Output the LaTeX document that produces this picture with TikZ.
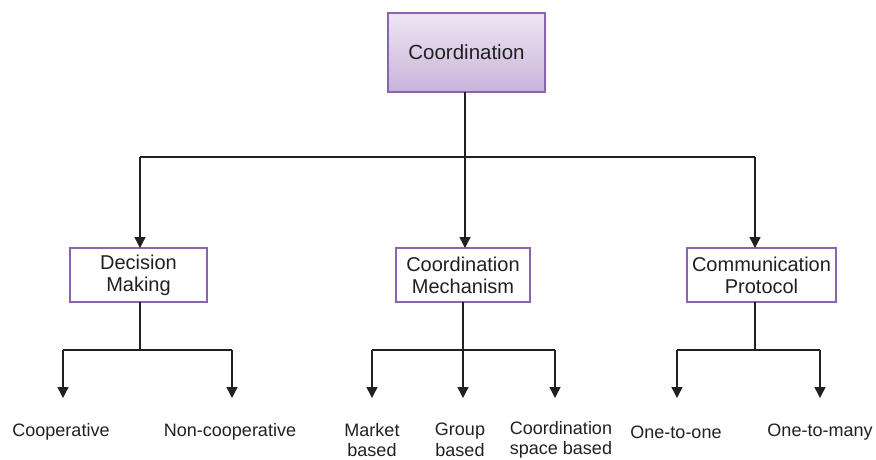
\documentclass[tikz,border=0pt]{standalone}
\usepackage{fontspec}
\setmainfont{Liberation Sans}
\usetikzlibrary{arrows.meta}
\definecolor{boxedge}{HTML}{8A65AD}
\definecolor{topfill}{HTML}{EDE6F2}
\definecolor{botfill}{HTML}{C8B3D9}
\definecolor{ink}{HTML}{231F20}
\begin{document}
\begin{tikzpicture}[x=1pt,y=-1pt,
  rootbox/.style={draw=boxedge,line width=2pt,top color=topfill,bottom color=botfill,
    minimum width=157pt,minimum height=79pt,inner sep=0pt,font=\fontsize{20.5}{24}\selectfont,text=ink},
  catbox/.style={draw=boxedge,line width=2pt,fill=white,minimum height=54pt,inner sep=0pt,
    align=center,font=\fontsize{20}{22}\selectfont,text=ink},
  leaf/.style={align=center,font=\fontsize{18}{20.5}\selectfont,text=ink,inner sep=0pt},
  link/.style={draw=ink,line width=1.4pt},
  arr/.style={link,-{Triangle[length=11pt,width=11pt]}}]
\useasboundingbox (0,0) rectangle (876,459);

% root
\node[rootbox] (root) at (466.5,52.5) {Coordination};

% second level
\node[catbox,minimum width=137pt] (dm) at (138.5,275) {Decision\\Making};
\node[catbox,minimum width=134pt] (cm) at (463,275) {Coordination\\Mechanism};
\node[catbox,minimum width=149pt] (cp) at (761.5,275) {Communication\\Protocol};

% leaves
\node[leaf] (coop) at (61,432) {Cooperative};
\node[leaf] (ncoop) at (230,432) {Non-cooperative};
\node[leaf] (mkt) at (372,440) {Market\\based};
\node[leaf] (grp) at (460,440) {Group\\based};
\node[leaf] (csp) at (561,440) {Coordination\\space based};
\node[leaf] (o2o) at (676,432) {One-to-one};
\node[leaf] (o2m) at (820,432) {One-to-many};

% branch points
\coordinate (j0) at (465,157);
\coordinate (j1) at (140,350);
\coordinate (j2) at (463,350);
\coordinate (j3) at (755,350);

% root to categories
\draw[link] (465,92) -- (j0);
\draw[link] (140,157) -- (755,157);
\draw[arr] (140,157) -- (140,248);
\draw[arr] (j0) -- (465,248);
\draw[arr] (755,157) -- (755,248);

% Decision Making
\draw[link] (140,302) -- (j1);
\draw[link] (63,350) -- (232,350);
\draw[arr] (63,350) -- (63,398);
\draw[arr] (232,350) -- (232,398);

% Coordination Mechanism
\draw[link] (463,302) -- (j2);
\draw[link] (372,350) -- (555,350);
\draw[arr] (372,350) -- (372,398);
\draw[arr] (j2) -- (463,398);
\draw[arr] (555,350) -- (555,398);

% Communication Protocol
\draw[link] (755,302) -- (j3);
\draw[link] (677,350) -- (820,350);
\draw[arr] (677,350) -- (677,398);
\draw[arr] (820,350) -- (820,398);
\end{tikzpicture}
\end{document}
